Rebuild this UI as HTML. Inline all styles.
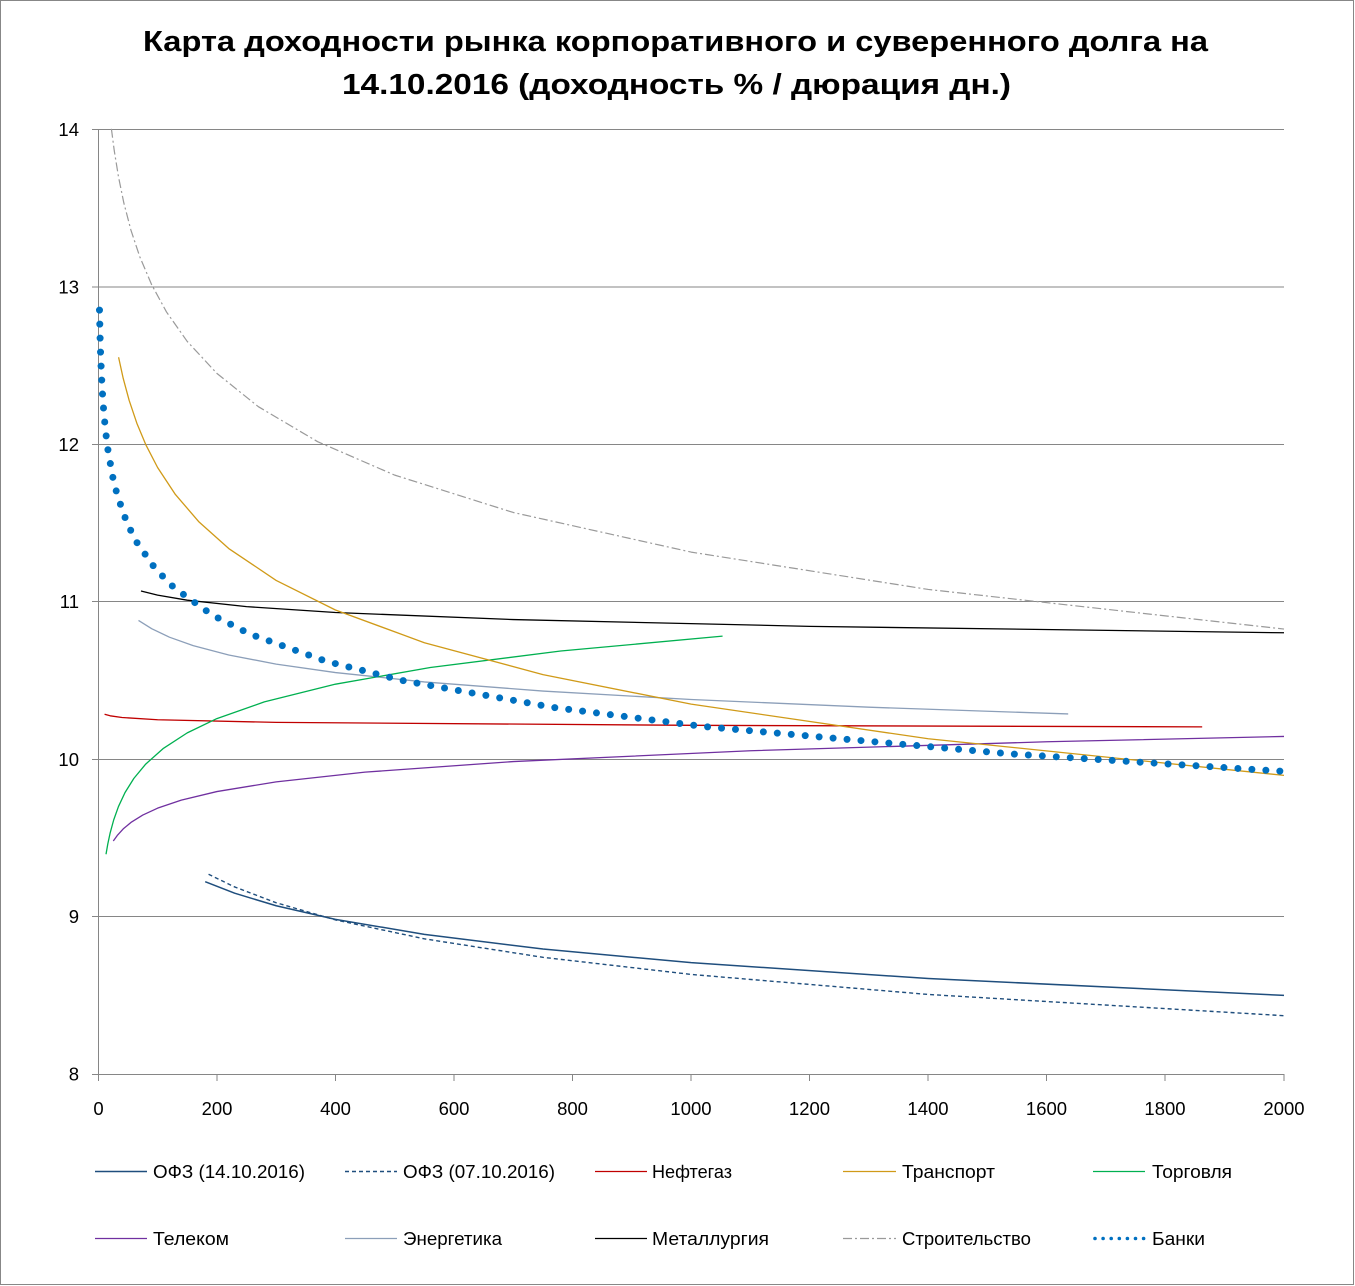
<!DOCTYPE html>
<html><head><meta charset="utf-8"><style>
html,body{margin:0;padding:0;background:#fff;}
svg{display:block;}
text{font-family:"Liberation Sans","Noto Sans CJK SC",sans-serif;fill:#000;}
</style></head><body>
<svg width="1355" height="1286" viewBox="0 0 1355 1286" xmlns="http://www.w3.org/2000/svg">
<rect x="0" y="0" width="1355" height="1286" fill="#fff"/>
<rect x="0.5" y="0.5" width="1353" height="1284" fill="none" stroke="#878787" stroke-width="1"/>

<!-- title -->
<text x="143" y="51" font-size="29" font-weight="bold" textLength="1065" lengthAdjust="spacingAndGlyphs">Карта доходности рынка корпоративного и суверенного долга на</text>
<text x="342" y="94" font-size="29" font-weight="bold" textLength="669" lengthAdjust="spacingAndGlyphs">14.10.2016 (доходность % / дюрация дн.)</text>

<!-- gridlines -->
<g stroke="#868686" stroke-width="1" fill="none">
<line x1="92" y1="129.5" x2="1284" y2="129.5"/>
<line x1="92" y1="287" x2="1284" y2="287"/>
<line x1="92" y1="444.5" x2="1284" y2="444.5"/>
<line x1="92" y1="601.5" x2="1284" y2="601.5"/>
<line x1="92" y1="759.5" x2="1284" y2="759.5"/>
<line x1="92" y1="916.5" x2="1284" y2="916.5"/>
<line x1="92" y1="1074.5" x2="1284.5" y2="1074.5"/>
<line x1="98.5" y1="129" x2="98.5" y2="1081"/>
<line x1="217" y1="1074" x2="217" y2="1081"/>
<line x1="335.5" y1="1074" x2="335.5" y2="1081"/>
<line x1="454" y1="1074" x2="454" y2="1081"/>
<line x1="572.5" y1="1074" x2="572.5" y2="1081"/>
<line x1="691" y1="1074" x2="691" y2="1081"/>
<line x1="809.5" y1="1074" x2="809.5" y2="1081"/>
<line x1="928" y1="1074" x2="928" y2="1081"/>
<line x1="1046.5" y1="1074" x2="1046.5" y2="1081"/>
<line x1="1165" y1="1074" x2="1165" y2="1081"/>
<line x1="1284" y1="1074" x2="1284" y2="1081"/>
</g>

<!-- y labels -->
<g font-size="18.5" text-anchor="end">
<text x="79" y="136">14</text>
<text x="79" y="293.5">13</text>
<text x="79" y="451">12</text>
<text x="79" y="608">11</text>
<text x="79" y="766">10</text>
<text x="79" y="923">9</text>
<text x="79" y="1080.5">8</text>
</g>
<!-- x labels -->
<g font-size="18.5" text-anchor="middle">
<text x="98.5" y="1115">0</text>
<text x="217" y="1115">200</text>
<text x="335.5" y="1115">400</text>
<text x="454" y="1115">600</text>
<text x="572.5" y="1115">800</text>
<text x="691" y="1115">1000</text>
<text x="809.5" y="1115">1200</text>
<text x="928" y="1115">1400</text>
<text x="1046.5" y="1115">1600</text>
<text x="1165" y="1115">1800</text>
<text x="1284" y="1115">2000</text>
</g>

<!-- series -->
<g fill="none" stroke-linejoin="round">
<!-- Строительство -->
<polyline stroke="#9a9a9a" stroke-width="1.2" stroke-dasharray="9 3 2 3" points="111.40,128.79 114.31,151.02 118.46,176.63 123.79,202.70 130.91,230.03 139.80,256.81 151.66,284.71 166.48,311.93 187.23,341.43 216.87,373.38 258.37,406.70 317.65,441.69 394.73,475.13 513.30,512.49 691.15,552.10 928.29,589.45 1284,629.06"/>
<!-- Металлургия -->
<polyline stroke="#000" stroke-width="1.3" points="140.99,590.95 157.59,595.08 187.23,600.19 246.51,606.62 335.44,612.53 513.30,619.57 809.72,626.35 1284,632.78"/>
<!-- Энергетика -->
<polyline stroke="#8c9fb9" stroke-width="1.3" points="138.50,620.40 151.66,628.72 169.44,637.18 193.16,645.63 228.73,654.99 276.16,664.11 335.44,672.56 424.37,681.92 542.94,691.04 691.15,699.49 869.01,707.20 1068.19,713.96"/>
<!-- Нефтегаз -->
<polyline stroke="#c00000" stroke-width="1.3" points="104.58,714.27 110.16,715.81 122.01,717.50 157.59,719.73 276.16,722.40 691.15,725.33 1202.19,726.84"/>
<!-- Торговля -->
<polyline stroke="#00b050" stroke-width="1.3" points="106.01,854.29 107.79,843.98 110.16,832.90 113.71,819.88 118.46,806.56 124.98,792.64 133.87,778.36 145.73,764.08 163.51,748.27 187.23,732.88 216.87,718.59 264.30,701.89 335.44,684.18 430.30,667.48 560.72,651.03 722.57,636.13"/>
<!-- Телеком -->
<polyline stroke="#7030a0" stroke-width="1.3" points="113.30,841.06 117.27,835.44 123.20,828.92 131.50,822.04 142.76,815.04 157.59,808.16 181.30,800.10 216.87,791.56 276.16,781.86 365.08,772.15 513.30,761.57 750.44,750.75 1046.86,741.78 1284,736.44"/>
<!-- Транспорт -->
<polyline stroke="#d09a18" stroke-width="1.3" points="118.58,357.22 123.20,378.34 129.13,400.28 136.84,423.22 145.73,444.56 157.59,467.50 175.37,494.46 199.08,522.04 228.73,548.53 276.16,580.42 335.44,609.99 424.37,642.71 542.94,674.59 691.15,704.16 928.29,738.74 1284,775.40"/>
<!-- ОФЗ 14.10 -->
<polyline stroke="#1f4e7d" stroke-width="1.5" points="205.19,881.69 234.66,893.20 276.16,905.75 335.44,919.34 424.37,934.39 542.94,949.05 691.15,962.64 928.29,978.53 1284,995.39"/>
<!-- ОФЗ 07.10 -->
<polyline stroke="#1f4e7d" stroke-width="1.4" stroke-dasharray="4 3" points="208.57,874.29 234.66,886.94 276.16,902.75 335.44,919.88 424.37,938.84 542.94,957.31 691.15,974.43 928.29,994.46 1284,1015.70"/>
<!-- Банки -->
<polyline stroke="#0070c0" stroke-width="7" stroke-linecap="round" stroke-dasharray="0 14" points="99.49,310.11 100.08,337.18 100.67,356.40 101.86,383.48 103.04,402.68 105.41,429.76 107.79,448.97 112.53,476.05 117.27,495.26 126.76,522.34 136.24,541.55 155.21,568.62 174.18,587.84 212.13,614.92 250.07,634.13 325.96,661.20 401.84,680.41 553.61,707.49 705.38,726.71 1008.92,753.78 1284,771.41"/>
</g>

<!-- legend -->
<g fill="none">
<line x1="95" y1="1171.5" x2="147" y2="1171.5" stroke="#1f4e7d" stroke-width="1.5"/>
<line x1="345" y1="1171.5" x2="397" y2="1171.5" stroke="#1f4e7d" stroke-width="1.4" stroke-dasharray="4 3"/>
<line x1="595" y1="1171.5" x2="647" y2="1171.5" stroke="#c00000" stroke-width="1.3"/>
<line x1="843" y1="1171.5" x2="896" y2="1171.5" stroke="#d09a18" stroke-width="1.3"/>
<line x1="1093" y1="1171.5" x2="1145" y2="1171.5" stroke="#00b050" stroke-width="1.3"/>
<line x1="95" y1="1238.5" x2="147" y2="1238.5" stroke="#7030a0" stroke-width="1.3"/>
<line x1="345" y1="1238.5" x2="397" y2="1238.5" stroke="#8c9fb9" stroke-width="1.3"/>
<line x1="595" y1="1238.5" x2="647" y2="1238.5" stroke="#000" stroke-width="1.3"/>
<line x1="843" y1="1238.5" x2="896" y2="1238.5" stroke="#9a9a9a" stroke-width="1.2" stroke-dasharray="9 3 2 3"/>
<line x1="1095" y1="1238.5" x2="1144" y2="1238.5" stroke="#0070c0" stroke-width="3.6" stroke-linecap="round" stroke-dasharray="0 8.1"/>
</g>
<g font-size="18.5">
<text x="153" y="1178" textLength="152" lengthAdjust="spacingAndGlyphs">ОФЗ (14.10.2016)</text>
<text x="403" y="1178" textLength="152" lengthAdjust="spacingAndGlyphs">ОФЗ (07.10.2016)</text>
<text x="652" y="1178" textLength="80" lengthAdjust="spacingAndGlyphs">Нефтегаз</text>
<text x="902" y="1178" textLength="93" lengthAdjust="spacingAndGlyphs">Транспорт</text>
<text x="1152" y="1178" textLength="80" lengthAdjust="spacingAndGlyphs">Торговля</text>
<text x="153" y="1245" textLength="76" lengthAdjust="spacingAndGlyphs">Телеком</text>
<text x="403" y="1245" textLength="99" lengthAdjust="spacingAndGlyphs">Энергетика</text>
<text x="652" y="1245" textLength="117" lengthAdjust="spacingAndGlyphs">Металлургия</text>
<text x="902" y="1245" textLength="129" lengthAdjust="spacingAndGlyphs">Строительство</text>
<text x="1152" y="1245" textLength="53" lengthAdjust="spacingAndGlyphs">Банки</text>
</g>
</svg>
</body></html>
